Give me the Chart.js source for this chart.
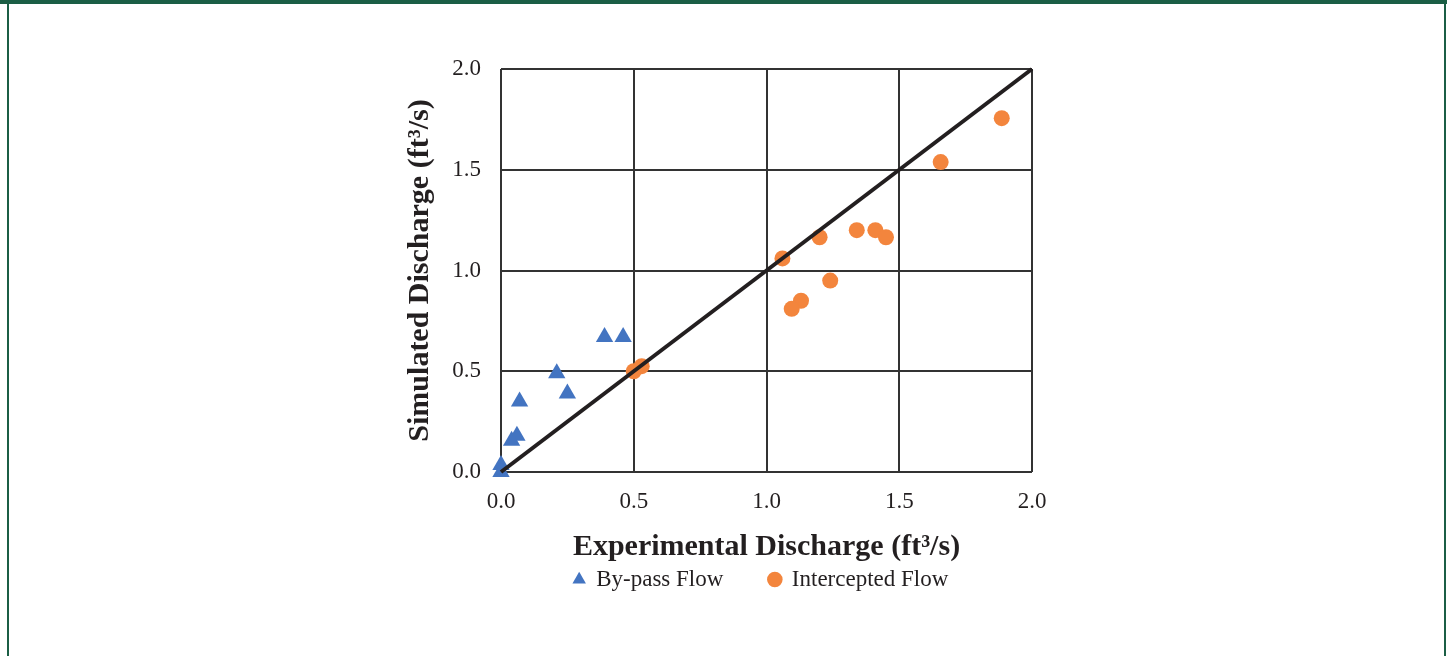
<!DOCTYPE html>
<html>
<head>
<meta charset="utf-8">
<script src="https://cdn.jsdelivr.net/npm/chart.js@4/dist/chart.umd.min.js"></script>
<style>
  html, body { margin: 0; padding: 0; background: #fff; }
  #frame { position: relative; width: 1447px; height: 656px; overflow: hidden; }
  .bar-top { position: absolute; left: 0; top: 0; width: 1447px; height: 4px; background: #1b5e45; }
  .bar-side { position: absolute; top: 0; width: 2px; height: 656px; background: #1b5e45; }
  canvas { position: absolute; left: 0; top: 0; }
</style>
</head>
<body>
<div id="frame">
  <canvas id="chart" width="1447" height="656"></canvas>
  <div class="bar-top"></div>
  <div class="bar-side" style="left:7px"></div>
  <div class="bar-side" style="left:1444px"></div>
</div>
<script>
  // values
  const bypassX = [0.39, 0.46, 0.21, 0.25, 0.07, 0.06, 0.04, 0.0, 0.0];
  const bypassY = [0.67, 0.67, 0.49, 0.39, 0.35, 0.18, 0.155, 0.035, 0.0];
  const interceptX = [0.50, 0.53, 1.06, 1.20, 1.34, 1.41, 1.45, 1.24, 1.13, 1.095, 1.886, 1.656];
  const interceptY = [0.50, 0.525, 1.06, 1.165, 1.20, 1.20, 1.165, 0.95, 0.85, 0.81, 1.756, 1.538];
  const lineX = [0, 2];
  const lineY = [0, 2];
  const tickValues = [0, 0.5, 1.0, 1.5, 2.0];

  const blue = '#4374c1';
  const orange = '#f3853d';
  const ink = '#231f20';
  const serif = "'Liberation Serif', 'Times New Roman', serif";

  function pts(xs, ys) {
    return xs.map((x, i) => ({ x: x, y: ys[i] }));
  }

  const fixedTicks = scale => {
    scale.ticks = tickValues.map(v => ({ value: v }));
  };

  new Chart(document.getElementById('chart'), {
    type: 'scatter',
    data: {
      datasets: [
        {
          label: 'By-pass Flow',
          data: pts(bypassX, bypassY),
          pointStyle: 'triangle',
          pointRadius: 10,
          pointHoverRadius: 10,
          backgroundColor: blue,
          borderColor: blue,
          borderWidth: 0,
          clip: false,
          order: 2,
        },
        {
          label: 'Intercepted Flow',
          data: pts(interceptX, interceptY),
          pointStyle: 'circle',
          pointRadius: 8,
          pointHoverRadius: 8,
          backgroundColor: orange,
          borderColor: orange,
          borderWidth: 0,
          clip: false,
          order: 3,
        },
        {
          label: 'line',
          type: 'line',
          data: pts(lineX, lineY),
          borderColor: ink,
          borderWidth: 4,
          pointRadius: 0,
          fill: false,
          clip: false,
          order: 1,
        },
      ],
    },
    options: {
      responsive: false,
      animation: false,
      layout: { padding: { left: 402, right: 327, top: 69, bottom: 55 } },
      plugins: {
        tooltip: { enabled: false },
        legend: {
          position: 'bottom',
          labels: {
            filter: item => item.text !== 'line',
            usePointStyle: true,
            boxWidth: 11,
            boxHeight: 11,
            padding: 46,
            color: ink,
            font: { family: serif, size: 23 },
          },
        },
      },
      scales: {
        x: {
          type: 'linear',
          min: 0,
          max: 2,
          afterBuildTicks: fixedTicks,
          afterFit: s => { s.height = 50; },
          border: { display: false },
          grid: { color: '#333333', lineWidth: 2, drawTicks: false },
          ticks: {
            padding: 16,
            color: ink,
            font: { family: serif, size: 23 },
            callback: v => Number(v).toFixed(1),
          },
          title: {
            display: true,
            text: 'Experimental Discharge (ft³/s)',
            color: ink,
            font: { family: serif, size: 30, weight: 'bold' },
            padding: { top: 0, bottom: -43 },
          },
        },
        y: {
          type: 'linear',
          min: 0,
          max: 2,
          afterBuildTicks: fixedTicks,
          afterFit: s => { s.width = 99; },
          border: { display: false },
          grid: { color: '#333333', lineWidth: 2, drawTicks: false },
          ticks: {
            padding: 20,
            color: ink,
            font: { family: serif, size: 23 },
            callback: v => Number(v).toFixed(1),
          },
          title: {
            display: true,
            text: 'Simulated Discharge (ft³/s)',
            color: ink,
            font: { family: serif, size: 30, weight: 'bold' },
            padding: 0,
          },
        },
        // empty right-hand axis, only there to keep the plot where the original has it
        yRight: {
          type: 'linear',
          position: 'right',
          min: 0,
          max: 2,
          afterFit: s => { s.width = 88; },
          border: { display: false },
          grid: { display: false, drawTicks: false },
          ticks: { display: false },
        },
      },
    },
  });
</script>
</body>
</html>
